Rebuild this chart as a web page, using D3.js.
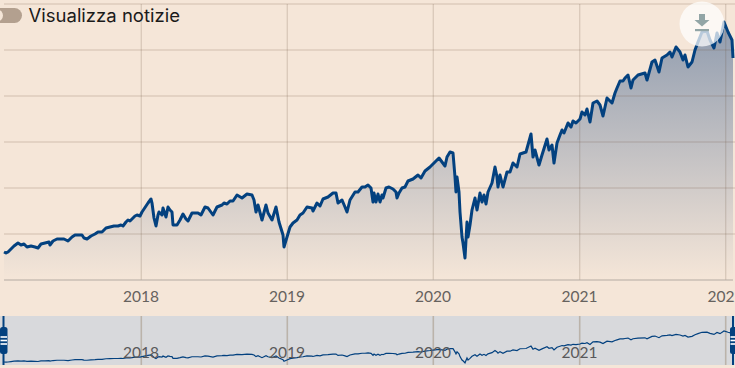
<!DOCTYPE html>
<html><head><meta charset="utf-8">
<script src="https://cdn.jsdelivr.net/npm/d3@7"></script>
<style>html,body{margin:0;padding:0;background:#f5e6d8;overflow:hidden}svg{display:block}</style>
</head><body><svg id="c" width="735" height="368"></svg>
<script>
// days since 2017-01-01
const days = [22.5,27.5,32.5,40,47.5,57.5,65,72.5,80,90,100,107.5,115,125,135,137.5,145,155,162.5,172.5,182.5,192.5,200,210,217.5,222.5,230,240,250,257.5,267.5,277.5,287.5,297.5,307.5,315,320,327.5,332.5,337.5,342.5,350,355,362.5,
367.5,382.5,390,392.5,397.5,402.5,407.5,410,417.5,420,427.5,432.5,437.5,442.5,445,455,462.5,470,477.5,482.5,492.5,507.5,515,525,532.5,545,555,567.5,572.5,580,587.5,595,605,617.5,630,642.5,647.5,652.5,657.5,667.5,677.5,682.5,692.5,702.5,710,720,722.5,730,737.5,745,755,762.5,
770,780,792.5,795,805,812.5,820,832.5,845,852.5,857.5,867.5,875,880,887.5,900,907.5,917.5,925,932.5,940,945,947.5,952.5,957.5,962.5,967.5,970,977.5,985,995,1002.5,1005,1010,1017.5,1025,1032.5,1045,1057.5,1065,1075,1087.5,1095,
1110,1125,1130,1137.5,1145,1150,1152.5,1155,1160,1162.5,1167.5,1170,1175,1180,1182.5,1187.5,1192.5,1200,1205,1212.5,1217.5,1222.5,1227.5,1232.5,1242.5,1250,1255,1257.5,1262.5,1270,1280,1287.5,1295,1305,1312.5,1327.5,1340,1345,1350,1360,1367.5,1380,1385,1392.5,1397.5,1405,1412.5,
1417.5,1422.5,1432.5,1440,1445,1452.5,1462.5,1467.5,1475,1480,1487.5,1495,1505,1512.5,1520,1530,1542.5,1550,1555,1562.5,1570,1575,1582.5,1590,1595,1607.5,1625,1630,1642.5,1650,1660,1667.5,1680,1687.5,1692.5,1702.5,1712.5,1720,1725,1732.5,1742.5,1750,1757.5,1767.5,1780,1787.5,1797.5,1805,1812.5,1822.5,1832.5,1842.5,1845];
const values = [28,27,28,31,34,37,35,36,33,34,33,32,36,37,38,35,39,41,41,41,39,43,45,45,45,42,41,44,46,48,48,52,53,54,54,55,54,58,60,59,61,64,65,64,
68,77,81,77,62,54,65,68,65,72,63,73,70,68,55,55,60,66,61,59,67,67,65,73,72,65,73,75,77,76,79,79,85,82,86,85,80,68,75,60,75,67,60,73,58,45,33,43,53,57,60,65,
67,73,72,69,77,74,81,83,87,87,77,80,73,68,80,88,88,93,93,95,92,78,87,78,86,78,85,82,92,93,91,88,82,87,92,93,99,101,105,102,109,113,116,
122,114,123,128,127,103,88,103,88,68,43,37,22,58,43,55,70,82,70,87,78,85,76,88,97,113,103,93,105,93,108,108,117,113,126,128,146,123,130,115,125,141,130,135,117,137,145,
150,147,157,153,159,157,161,168,165,171,158,177,179,175,164,182,177,187,192,199,199,202,205,192,200,205,207,200,218,220,208,222,225,228,223,233,228,220,225,213,218,230,238,248,249,240,232,247,238,258,248,240,222];
const yearTicks = [365,730,1095,1461,1826];
const yearLabels = ["2018","2019","2020","2021","2022"];
const valueTicks = [46,92,138,184,230,276];
const toggleLabel = "Visualizza notizie";

const W=735,H=368;
const svg=d3.select("#c");
const points=days.map((d,i)=>[d,values[i]]);
const x=d3.scaleLinear().domain([12.5,1850]).range([0,W]);
const y=d3.scaleLinear().domain([0,276]).range([280,4]);
const yNav=d3.scaleLinear().domain([0,276]).range([365.8,328.5]);

const defs=svg.append("defs");
const g=defs.append("linearGradient").attr("id","fade").attr("gradientUnits","userSpaceOnUse")
  .attr("x1",0).attr("x2",0).attr("y1",y(276)).attr("y2",y(0));
g.append("stop").attr("offset",0).attr("stop-color","#0a3a78").attr("stop-opacity",0.46);
g.append("stop").attr("offset",1).attr("stop-color","#0a3a78").attr("stop-opacity",0.0);

svg.append("rect").attr("width",W).attr("height",H).attr("fill","#f5e6d8");

// area
svg.append("path").datum(points).attr("fill","url(#fade)")
  .attr("d",d3.area().x(d=>x(d[0])).y0(y(0)).y1(d=>y(d[1])));

// grid
svg.append("g").selectAll("line").data(valueTicks).join("line")
  .attr("x1",4).attr("x2",W).attr("y1",d=>y(d)).attr("y2",d=>y(d))
  .attr("stroke","#6e5540").attr("stroke-opacity",0.27).attr("stroke-width",1.2);
svg.append("g").selectAll("line").data(yearTicks).join("line")
  .attr("x1",d=>x(d)+0.3).attr("x2",d=>x(d)+0.3).attr("y1",4).attr("y2",280)
  .attr("stroke","#6e5540").attr("stroke-opacity",0.2).attr("stroke-width",1.3);
svg.append("line").attr("x1",4).attr("x2",W-2).attr("y1",y(0)).attr("y2",y(0))
  .attr("stroke","#b3aaa1").attr("stroke-width",1.2);

// main line
svg.append("path").datum(points).attr("fill","none").attr("stroke","#03417f").attr("stroke-width",3)
  .attr("stroke-linejoin","round")
  .attr("d",d3.line().x(d=>x(d[0])).y(d=>y(d[1])));

// x axis labels
svg.append("g").selectAll("text").data(yearTicks).join("text")
  .attr("x",d=>x(d)).attr("y",302).attr("text-anchor","middle")
  .attr("font-family","Lato, sans-serif").attr("font-size",15.5).attr("fill","#66625e")
  .text((d,i)=>yearLabels[i]);

// navigator
svg.append("rect").attr("x",0).attr("y",316).attr("width",W).attr("height",49).attr("fill","#d8d9dc");
svg.append("g").selectAll("line").data(yearTicks).join("line")
  .attr("x1",d=>x(d)+0.3).attr("x2",d=>x(d)+0.3).attr("y1",316).attr("y2",365)
  .attr("stroke","#bbb3aa").attr("stroke-width",1.6);
svg.append("path").datum(points).attr("fill","none").attr("stroke","#03417f").attr("stroke-width",1.2)
  .attr("d",d3.line().x(d=>x(d[0])).y(d=>yNav(d[1])));
svg.append("g").selectAll("text").data(yearTicks.slice(0,4)).join("text")
  .attr("x",d=>x(d)).attr("y",358).attr("text-anchor","middle")
  .attr("font-family","Lato, sans-serif").attr("font-size",15.5).attr("fill","#59585a")
  .text((d,i)=>yearLabels[i]);

// navigator handles
[[3.5,0,7.5],[733,730,8]].forEach(([lx,rx,rw])=>{
  svg.append("line").attr("x1",lx).attr("x2",lx).attr("y1",316).attr("y2",365).attr("stroke","#03417f").attr("stroke-width",2);
  svg.append("rect").attr("x",rx).attr("y",327).attr("width",rw).attr("height",27).attr("rx",2.5).attr("fill","#03417f");
  [337,340.5,344].forEach(sy=>svg.append("rect").attr("x",rx+0.5).attr("y",sy-0.8).attr("width",rw-1).attr("height",1.6).attr("fill","#fff"));
});

// toggle
svg.append("rect").attr("x",-16).attr("y",8).attr("width",38).attr("height",15).attr("rx",7.5).attr("fill","#b3a08f");
svg.append("circle").attr("cx",-3).attr("cy",15.5).attr("r",6).attr("fill","#f5e6d8");
svg.append("text").attr("x",28.5).attr("y",22).attr("font-family","Inter, sans-serif").attr("font-size",18)
  .attr("textLength",151.5).attr("lengthAdjust","spacingAndGlyphs")
  .attr("fill","#1a1a1a").text(toggleLabel);

// download button
svg.append("circle").attr("cx",702).attr("cy",24).attr("r",22.5).attr("fill","#fff").attr("fill-opacity",0.72);
svg.append("path").attr("fill","#92a5a6").attr("d","M699,14h6v6h4.5l-7.5,6.5l-7.5,-6.5h4.5z");
svg.append("rect").attr("x",695).attr("y",29).attr("width",14).attr("height",2.2).attr("fill","#92a5a6");
</script></body></html>
